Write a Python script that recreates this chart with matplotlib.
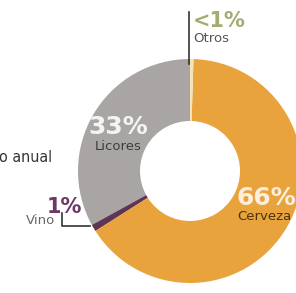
import matplotlib
matplotlib.use('Agg')
import matplotlib.pyplot as plt

# datos del consumo anual (porcentaje)
labels = ['Licores', 'Vino', 'Cerveza', 'Otros']
values = [33, 1, 65.5, 0.5]
pct_text = ['33%', '1%', '66%', '<1%']
colors = ['#a9a5a4', '#5e3552', '#e9a33c', '#f3e3b5']
title = 'o anual'   # lo que se ve del titulo, cortado a la izquierda

W, H = 296, 293
fig = plt.figure(figsize=(W / 100, H / 100), dpi=100)
ax = fig.add_axes([0, 0, 1, 1])
ax.set_xlim(0, W)
ax.set_ylim(0, H)
ax.set_aspect('equal')
ax.axis('off')


def py(y):
    # pixel coordinate from top -> data coordinate
    return H - y


cx, cy = 190, py(171)
ax.pie(values, colors=colors, startangle=90, counterclock=True,
       center=(cx, cy), radius=112,
       wedgeprops=dict(width=62, edgecolor='none'))
ax.set_xlim(0, W)
ax.set_ylim(0, H)

font = 'DejaVu Sans'

# Licores
ax.text(118, py(127), pct_text[0], color='#f5f3f3', fontsize=18, fontweight='bold',
        ha='center', va='center', family=font)
ax.text(118, py(146), labels[0], color='#3d3d3d', fontsize=9.5,
        ha='center', va='center', family=font)

# Cerveza
ax.text(237, py(198), pct_text[2], color='#fbeedc', fontsize=18, fontweight='bold',
        ha='left', va='center', family=font)
ax.text(237, py(216), labels[2], color='#4a3210', fontsize=9.5,
        ha='left', va='center', family=font)

# Otros
ax.text(193, py(21), pct_text[3], color='#a3ad72', fontsize=15, fontweight='bold',
        ha='left', va='center', family=font)
ax.text(193, py(39), labels[3], color='#555555', fontsize=9.5,
        ha='left', va='center', family=font)
ax.plot([189, 189], [py(12), py(64)], color='#333333', lw=1.2)

# Vino
ax.text(64, py(207), pct_text[1], color='#6a3a63', fontsize=15, fontweight='bold',
        ha='center', va='center', family=font)
ax.text(41, py(221), labels[1], color='#666666', fontsize=9.5,
        ha='center', va='center', family=font)
ax.plot([62, 62, 90], [py(213), py(226), py(226)], color='#333333', lw=1.2)

# titulo
ax.text(52, py(157), title, color='#333333', fontsize=11.5,
        ha='right', va='center', family=font, fontstretch='condensed')

fig.savefig('out.png', dpi=100)
